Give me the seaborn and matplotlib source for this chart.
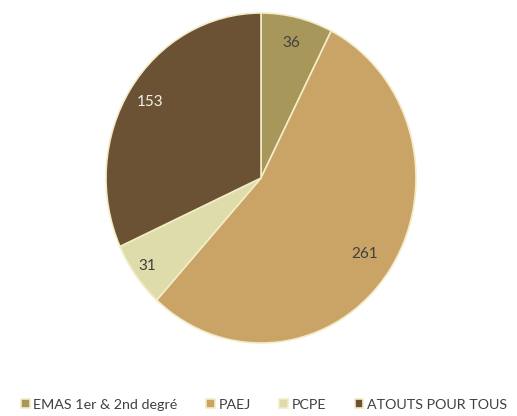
import matplotlib
matplotlib.use("Agg")
import matplotlib.pyplot as plt
import seaborn as sns
import numpy as np

categories = ["EMAS 1er & 2nd degré", "PAEJ", "PCPE", "ATOUTS POUR TOUS"]
values = [36, 261, 31, 153]
colors = ["#a8975b", "#c9a466", "#dfdcab", "#6b5234"]
label_colors = ["#404040", "#404040", "#404040", "#f2f0e6"]
label_dist = [0.84, 0.81, 0.91, 0.85]

sns.set_theme(style="white")
plt.rcParams['font.family'] = ['Lato', 'DejaVu Sans']

fig = plt.figure(figsize=(5.17, 4.16), dpi=100)
ax = fig.add_axes([106/517, 73/416, 310/517, 330/416])
wedges, _ = ax.pie(values, colors=colors, startangle=90, counterclock=False,
                   wedgeprops=dict(edgecolor="#f3ecc6", linewidth=1.2))
for w, v, c, d in zip(wedges, values, label_colors, label_dist):
    ang = np.deg2rad((w.theta1 + w.theta2) / 2)
    ax.text(d * np.cos(ang), d * np.sin(ang), str(v), ha="center", va="center",
            fontsize=11, color=c)
ax.set_aspect("auto")
ax.set_xlim(-1.0, 1.0)
ax.set_ylim(-1.0, 1.0)
ax.axis("off")

leg = fig.legend(wedges, categories, loc="center", bbox_to_anchor=(264/517, 1 - 405/416),
                 ncol=4, frameon=False, fontsize=10.3, handlelength=0.6, handleheight=0.6,
                 handletextpad=0.25, columnspacing=2.0, labelcolor="#404040")
fig.savefig("out.png", dpi=100, facecolor="white")
